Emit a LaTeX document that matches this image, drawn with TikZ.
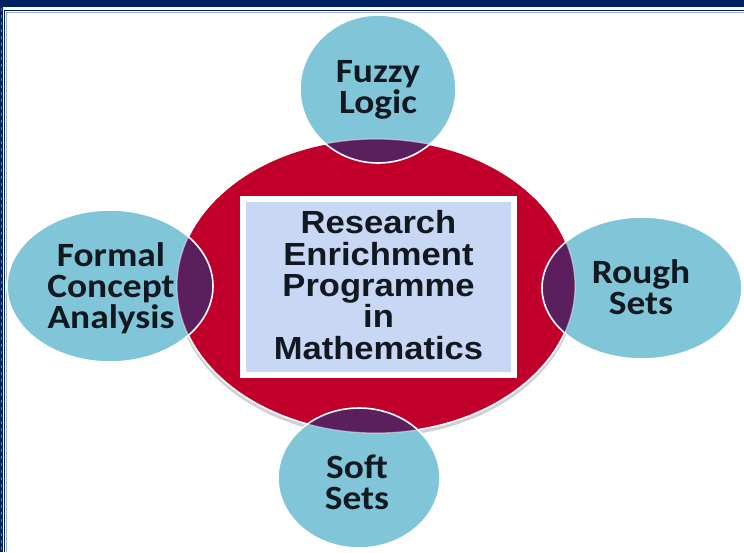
\documentclass[tikz,border=0pt]{standalone}
\usepackage{fontspec}
\setmainfont{Carlito}
\newfontfamily\centerfont{Liberation Sans}
\definecolor{navy}{HTML}{002060}
\definecolor{navylight}{HTML}{5A78B8}
\definecolor{crimson}{HTML}{C0002A}
\definecolor{plum}{HTML}{5C1F5E}
\definecolor{skyb}{HTML}{80C6D8}
\definecolor{paleb}{HTML}{C8D8F4}
\definecolor{ink}{HTML}{111820}
\tikzset{
  sattext/.style={font=\bfseries\fontsize{34}{31}\selectfont, text=ink, align=center, inner sep=0pt, xscale=1.1},
  centertext/.style={font=\centerfont\bfseries\fontsize{32}{31.3}\selectfont, text=ink, align=center, inner sep=0pt, xscale=1.08},
  centerbox/.style={draw=white, line width=6pt, fill=paleb, minimum width=271pt, minimum height=176pt, inner sep=0pt},
}
\begin{document}
\begin{tikzpicture}[x=1pt, y=-1pt]
\useasboundingbox (0,0) rectangle (744,552);
\fill[white] (0,0) rectangle (744,552);
% frame
\fill[navy] (0,0) rectangle (744,7);
\fill[navy] (0,0) rectangle (2.6,552);
\draw[navylight, line width=1pt, dash pattern=on 3pt off 4pt] (1.3,8) -- (1.3,552);
\draw[navy, line width=1.3pt] (4.6,552) -- (4.6,10.6) -- (744,10.6);
\draw[navylight!60, line width=0.6pt] (5.8,552) -- (5.8,11.8) -- (744,11.8);
% shadow of central ellipse
\fill[black!18] (376,289) ellipse [x radius=200pt, y radius=148pt];
% central red ellipse
\filldraw[fill=crimson, draw=white, line width=1.6pt] (376,286) ellipse [x radius=199pt, y radius=147pt];
% satellites
\fill[skyb] (378,89) ellipse [x radius=78pt, y radius=74pt];
\fill[skyb] (359,478) ellipse [x radius=81pt, y radius=70pt];
\fill[skyb] (110,286) ellipse [x radius=103pt, y radius=76pt];
\fill[skyb] (642,288) ellipse [x radius=100pt, y radius=71pt];
% overlaps
\begin{scope}
  \clip (376,286) ellipse [x radius=199pt, y radius=147pt];
  \fill[plum] (378,89) ellipse [x radius=78pt, y radius=74pt];
  \fill[plum] (359,478) ellipse [x radius=81pt, y radius=70pt];
  \fill[plum] (110,286) ellipse [x radius=103pt, y radius=76pt];
  \fill[plum] (642,288) ellipse [x radius=100pt, y radius=71pt];
\end{scope}
\draw[white, opacity=0.45, line width=1.2pt] (376,286) ellipse [x radius=199pt, y radius=147pt];
\begin{scope}[white, line width=1.6pt]
  \draw (378,89) ellipse [x radius=78pt, y radius=74pt];
  \draw (359,478) ellipse [x radius=81pt, y radius=70pt];
  \draw (110,286) ellipse [x radius=103pt, y radius=76pt];
  \draw (642,288) ellipse [x radius=100pt, y radius=71pt];
\end{scope}
% centre box
\node[centerbox] (box) at (378.5,287) {};
\node[centertext] (title) at (378.5,285) {Research\\Enrichment\\Programme\\in\\Mathematics};
% satellite texts
\node[sattext] (fuzzy) at (378,90) {Fuzzy\\Logic};
\node[sattext] (formal) at (111,288) {Formal\\Concept\\Analysis};
\node[sattext] (rough) at (641,287) {Rough\\Sets};
\node[sattext] (soft) at (357,482) {Soft\\Sets};
\end{tikzpicture}
\end{document}
